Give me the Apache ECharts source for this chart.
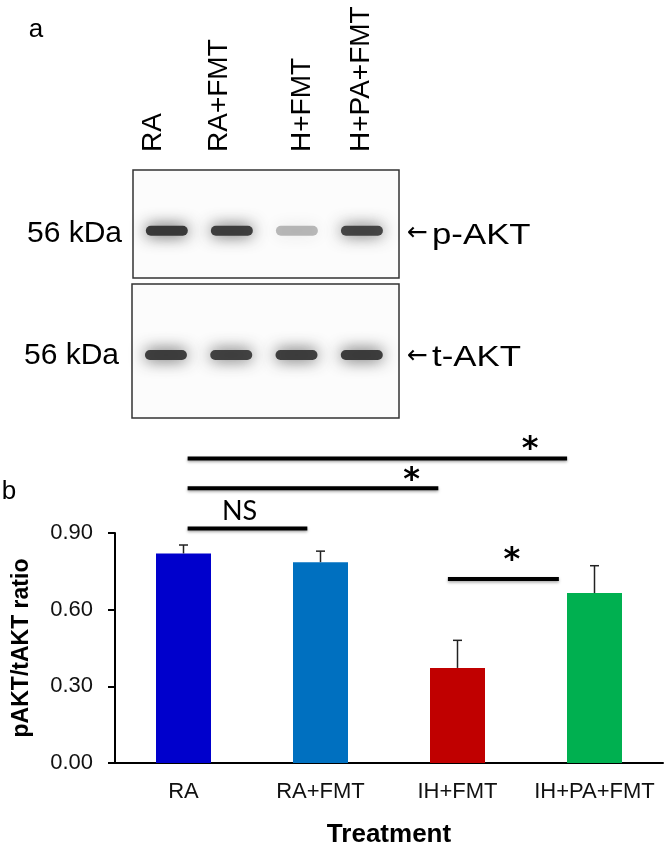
<!DOCTYPE html>
<html>
<head>
<meta charset="utf-8">
<script src="https://cdn.jsdelivr.net/npm/echarts@6/dist/echarts.min.js"></script>
<style>
  html, body { margin: 0; padding: 0; background: #fff; }
  #chart { width: 666px; height: 848px; }
</style>
</head>
<body>
<div id="chart"></div>
<script>
// ---- data ----
const groups = ['RA', 'RA+FMT', 'IH+FMT', 'IH+PA+FMT'];
const ratioMean = [0.82, 0.786, 0.372, 0.665];
const ratioErr = [0.033, 0.043, 0.108, 0.107];
const yMin = 0, yMax = 0.9, yStep = 0.3;

const blotLanes = ['RA', 'RA+FMT', 'H+FMT', 'H+PA+FMT'];
const pAktSignal = [0.95, 0.92, 0.32, 0.88]; // band darkness
const tAktSignal = [0.92, 0.9, 0.92, 0.93];
const blotRows = ['p-AKT', 't-AKT'];
const markerSize = '56 kDa';

const sigPairs = [[0, 3], [0, 2], [0, 1], [2, 3]];
const sigLabels = ['*', '*', 'NS', '*'];

// ---- layout / style ----
const barColors = ['#0000CC', '#0070C0', '#C00000', '#00B050'];
const FONT = 'Liberation Sans, Arial, sans-serif';
// how far each bracket end is pulled in from the group centre
const bracketTrim = [[0.03, -0.20], [0.03, -0.14], [0.03, -0.096], [-0.07, -0.26]];
const bracketY = [1.192, 1.075, 0.918, 0.72];
const sigLabelPos = [[2.53, 1.225], [1.666, 1.105], [0.409, 0.983], [2.396, 0.79]];
const laneLabelX = [153, 219, 302, 361];
const rowY = [0.438, 0.47]; // band centre inside each blot box

const chart = echarts.init(document.getElementById('chart'), null, { renderer: 'canvas' });

function bandItem(params, api) {
  const c = api.coord([api.value(0), api.value(1)]);
  const a = api.value(2);
  const col = 'rgba(50,50,50,' + a + ')';
  return {
    type: 'rect',
    shape: { x: c[0] - 21, y: c[1] - 5, width: 42, height: 10, r: 5 },
    style: { fill: col, shadowBlur: 16, shadowColor: col }
  };
}

function textEl(x, y, text, font, align, sx) {
  return {
    type: 'text', x: x, y: y, scaleX: sx || 1,
    style: { text: text, font: font, fill: '#000', align: align || 'center', verticalAlign: 'middle' }
  };
}

const option = {
  backgroundColor: '#fff',
  animation: false,
  grid: [
    { left: 115, top: 533, width: 548, height: 230, outerBoundsMode: 'none' },
    { left: 133, top: 170, width: 266, height: 108, show: true, borderColor: '#333', borderWidth: 1.5, backgroundColor: '#fcfcfc', outerBoundsMode: 'none' },
    { left: 132, top: 284, width: 267, height: 134, show: true, borderColor: '#333', borderWidth: 1.5, backgroundColor: '#fcfcfc', outerBoundsMode: 'none' }
  ],
  xAxis: [
    {
      type: 'category', gridIndex: 0, data: groups,
      axisLine: { onZero: false, lineStyle: { color: '#000', width: 2 } },
      axisTick: { length: 7, lineStyle: { color: '#000', width: 2 } },
      axisLabel: { interval: 0, color: '#111', fontSize: 22, fontFamily: FONT, margin: 18 },
      name: 'Treatment', nameLocation: 'middle', nameGap: 59,
      nameTextStyle: { color: '#000', fontSize: 26, fontWeight: 'bold', fontFamily: FONT }
    },
    { type: 'value', gridIndex: 0, min: -0.5, max: 3.5, show: false },
    { type: 'value', gridIndex: 1, min: -0.52, max: 3.57, show: false },
    { type: 'value', gridIndex: 2, min: -0.52, max: 3.57, show: false }
  ],
  yAxis: [
    {
      type: 'value', gridIndex: 0, min: yMin, max: yMax, interval: yStep,
      splitLine: { show: false },
      axisLine: { show: true, onZero: false, lineStyle: { color: '#000', width: 2 } },
      axisTick: { show: true, length: 7, lineStyle: { color: '#000', width: 2 } },
      axisLabel: { color: '#111', fontSize: 22, fontFamily: FONT, margin: 22, formatter: v => v.toFixed(2) },
      name: 'pAKT/tAKT ratio', nameLocation: 'middle', nameGap: 82,
      nameTextStyle: { color: '#000', fontSize: 23, fontWeight: 'bold', fontFamily: FONT }
    },
    { type: 'value', gridIndex: 1, min: 0, max: 1, show: false },
    { type: 'value', gridIndex: 2, min: 0, max: 1, show: false }
  ],
  series: [
    {
      type: 'bar', xAxisIndex: 0, yAxisIndex: 0, barWidth: 55,
      data: ratioMean.map((v, i) => ({ value: v, itemStyle: { color: barColors[i] } }))
    },
    {
      // upper error whiskers
      type: 'custom', xAxisIndex: 0, yAxisIndex: 0, z: 3,
      data: ratioMean.map((m, i) => [i, m, m + ratioErr[i]]),
      renderItem: (params, api) => {
        const base = api.coord([api.value(0), api.value(1)]);
        const top = api.coord([api.value(0), api.value(2)]);
        const st = { stroke: '#222', lineWidth: 1.5 };
        return {
          type: 'group', children: [
            { type: 'line', shape: { x1: base[0], y1: base[1], x2: top[0], y2: top[1] }, style: st },
            { type: 'line', shape: { x1: top[0] - 4.5, y1: top[1], x2: top[0] + 4.5, y2: top[1] }, style: st }
          ]
        };
      }
    },
    {
      // significance brackets
      type: 'custom', xAxisIndex: 1, yAxisIndex: 0, z: 4,
      data: sigPairs.map((p, i) => [p[0] + bracketTrim[i][0], p[1] + bracketTrim[i][1], bracketY[i]]),
      renderItem: (params, api) => {
        const a = api.coord([api.value(0), api.value(2)]);
        const b = api.coord([api.value(1), api.value(2)]);
        return {
          type: 'line', shape: { x1: a[0], y1: a[1], x2: b[0], y2: b[1] },
          style: { stroke: '#000', lineWidth: 4, shadowBlur: 3, shadowColor: 'rgba(0,0,0,0.35)', shadowOffsetY: 1.5 }
        };
      }
    },
    {
      type: 'custom', xAxisIndex: 1, yAxisIndex: 0, z: 4,
      data: sigLabels.map((t, i) => [sigLabelPos[i][0], sigLabelPos[i][1], i]),
      renderItem: (params, api) => {
        const c = api.coord([api.value(0), api.value(1)]);
        const t = sigLabels[api.value(2)];
        const isStar = t === '*';
        return {
          type: 'text', x: c[0], y: c[1],
          style: {
            text: t, align: 'center', verticalAlign: 'middle', fill: '#000',
            font: isStar ? 'bold 32px DejaVu Sans' : '27px Lato'
          }
        };
      }
    },
    {
      type: 'custom', xAxisIndex: 2, yAxisIndex: 1, renderItem: bandItem,
      data: pAktSignal.map((s, i) => [i, rowY[0], s])
    },
    {
      type: 'custom', xAxisIndex: 3, yAxisIndex: 2, renderItem: bandItem,
      data: tAktSignal.map((s, i) => [i, rowY[1], s])
    }
  ],
  graphic: [
    textEl(36, 30, 'a', '26px ' + FONT),
    textEl(9, 492, 'b', '26px ' + FONT),
    textEl(122, 234, markerSize, '30px ' + FONT, 'right'),
    textEl(119, 356, markerSize, '30px ' + FONT, 'right'),
    textEl(407, 233, '\u2190', '25px DejaVu Sans', 'left'),
    textEl(407, 356, '\u2190', '25px DejaVu Sans', 'left'),
    textEl(432, 236, blotRows[0], '29px ' + FONT, 'left', 1.2),
    textEl(432, 358, blotRows[1], '29px ' + FONT, 'left', 1.2)
  ].concat(blotLanes.map((name, i) => ({
    type: 'text', x: laneLabelX[i], y: 152, rotation: Math.PI / 2,
    style: { text: name, font: '28px ' + FONT, fill: '#000', align: 'left', verticalAlign: 'middle' }
  })))
};

chart.setOption(option);
</script>
</body>
</html>
